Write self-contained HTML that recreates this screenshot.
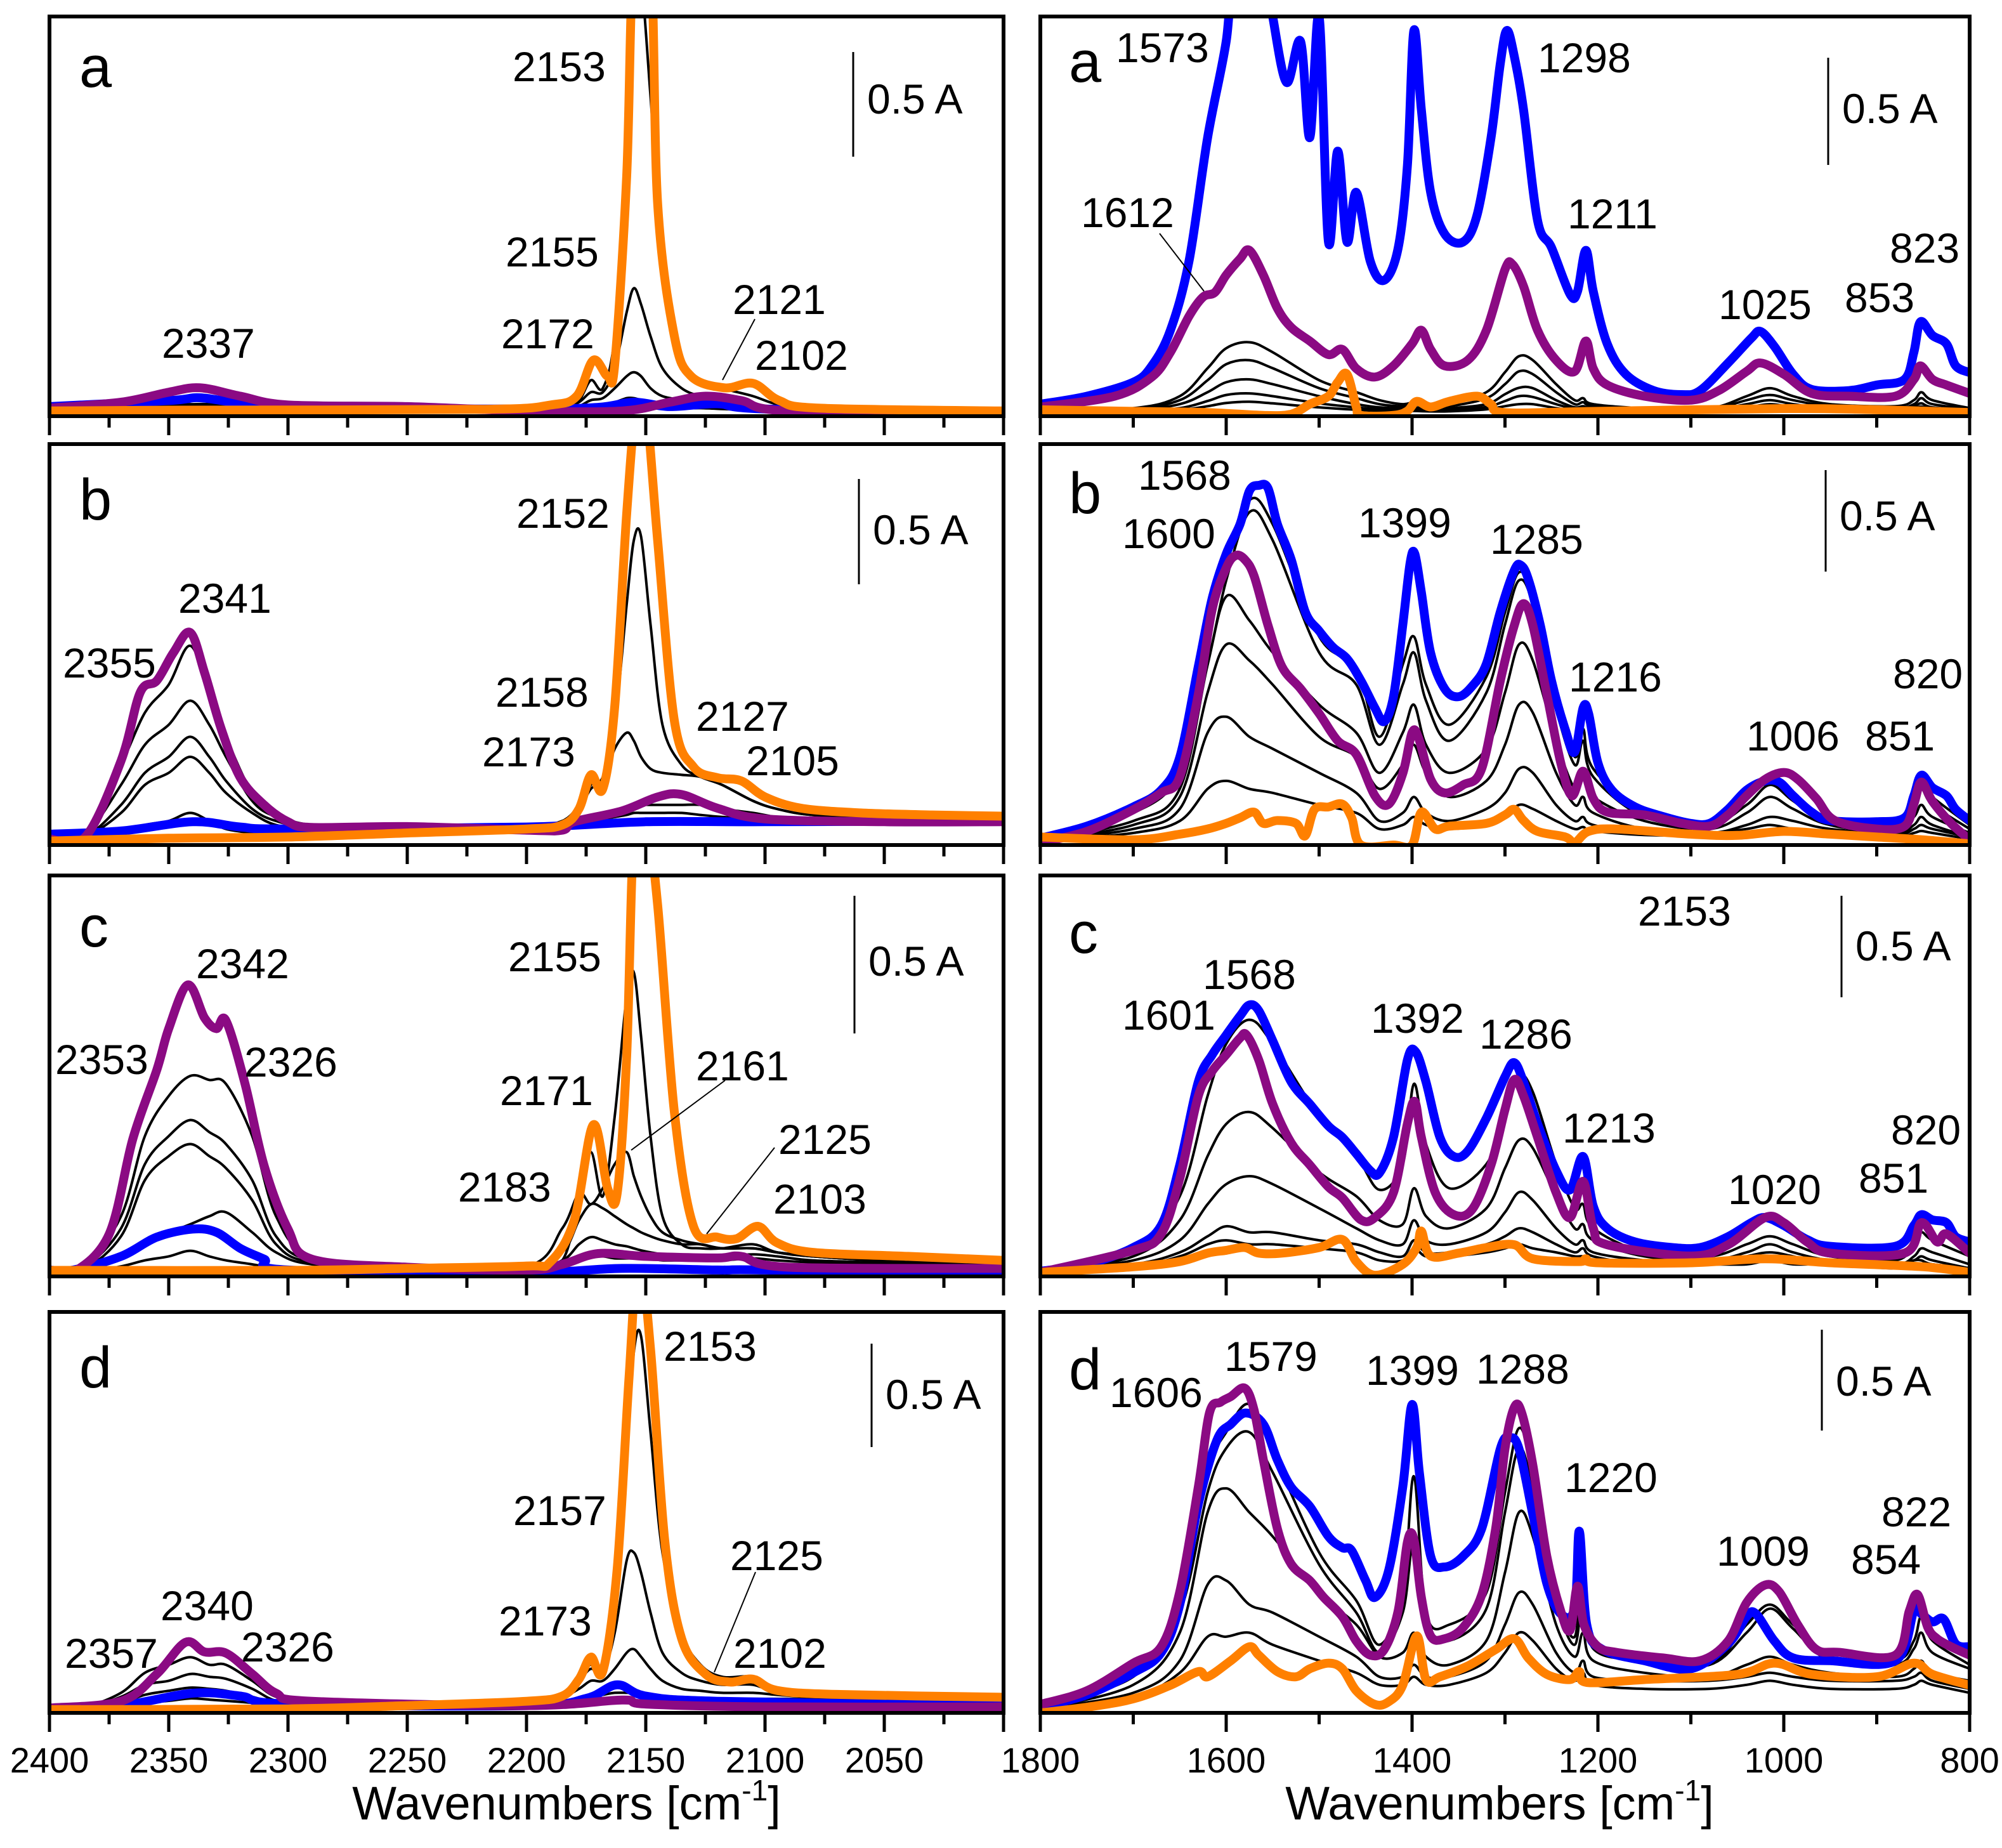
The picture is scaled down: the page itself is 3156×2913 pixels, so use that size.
<!DOCTYPE html>
<html><head><meta charset="utf-8">
<style>
html,body{margin:0;padding:0;background:#fff;}
svg{display:block;font-family:"Liberation Sans",Arial,sans-serif;}
</style></head>
<body>
<svg id="fig" xmlns="http://www.w3.org/2000/svg" width="3156" height="2913" viewBox="0 0 3156 2913">
<rect x="0" y="0" width="3156" height="2913" fill="#fff"/>
</svg>
<script>
// ---------- axis ticks ----------
const leftTicks = [2400,2350,2300,2250,2200,2150,2100,2050];
const leftTickLabels = ["2400","2350","2300","2250","2200","2150","2100","2050"];
const rightTicks = [1800,1600,1400,1200,1000,800];
const rightTickLabels = ["1800","1600","1400","1200","1000","800"];

// ---------- shared x grids for black (intermediate) spectra ----------
const leftBlackX = [2400,2385,2370,2360,2350,2341,2333,2326,2315,2305,2290,2250,2200,2185,2178,2173,2168,2163,2158,2155,2152,2148,2143,2135,2127,2118,2105,2095,2080,2050,2000];
const rightBlackX = [1800,1700,1650,1620,1600,1575,1550,1500,1460,1435,1410,1398,1385,1360,1320,1300,1285,1270,1245,1225,1216,1205,1150,1080,1040,1015,990,950,880,860,852,840,800];

// ---------- LEFT a ----------
const la_orange = [[2400,1.3],[2350,1.5],[2219,1.7],[2190,2.8],[2179,5],[2172,14],[2166,10],[2163,13],[2158,60],[2155,115],[2148,115],[2145,53],[2138,20],[2131,10],[2117,7.1],[2105,8.2],[2094,3.9],[2077,2],[2000,1.3]];
const la_purple = [[2400,2],[2370,3.5],[2350,6],[2337,7.1],[2320,5],[2300,2.8],[2250,2.4],[2200,1.3],[2160,1.3],[2140,3.5],[2125,5],[2110,3.9],[2090,1.3],[2000,1]];
const la_blue = [[2400,2.4],[2350,3.9],[2337,4.6],[2320,3.2],[2300,2],[2200,1.8],[2170,2.2],[2155,3.5],[2140,2.4],[2120,3.1],[2100,1.8],[2000,0.6]];
const la_black1 = [1.5,1.5,2,2.5,3,3,3,2.5,2,1.5,1.5,1.5,1.5,2.5,4,9,7,20,60,110,110,80,40,14,9,7,5,3,2,1.5,1.3];
const la_black2 = [1.2,1.2,1.5,2,2.5,2.5,2.5,2,1.5,1.2,1.2,1.2,1.2,2,3.5,6,6,12,26,32,28,20,12,7,5,4,3,2,1.5,1.2,1.2];
const la_black3 = [1,1,1.2,1.5,2,2,2,1.5,1.2,1,1,1,1,1.5,2.5,4,4.5,7,10,11,10,7,5,4,3,3,2,1.5,1.2,1,1];
const la_black4 = [1,1,1,1.2,1.5,1.5,1.5,1.2,1,1,1,1,1,1.2,2,2.5,3,3.5,4.5,4.5,4,3,2.5,2,2,1.8,1.5,1.2,1,1,1];

// ---------- LEFT b ----------
const lb_orange = [[2400,1],[2350,1.7],[2300,2],[2250,3],[2200,4],[2185,5],[2178,9],[2173,17.5],[2168,14],[2163,34.6],[2158,82.6],[2154,110],[2150,110],[2145,75.8],[2138,31],[2130,19.5],[2120,16.8],[2110,16],[2100,12],[2085,9.2],[2060,8],[2030,7.5],[2000,7.2]];
const lb_purple = [[2400,1.5],[2385,2],[2370,21],[2362,38],[2355,41],[2348,48],[2341,53],[2335,43],[2328,29],[2320,16.8],[2310,10],[2300,5.8],[2290,4.4],[2250,4.6],[2200,3.7],[2185,3.7],[2180,5.8],[2160,8.5],[2145,12],[2135,12.6],[2120,9.2],[2100,6.5],[2050,5.8],[2000,5.8]];
const lb_blue = [[2400,2.7],[2370,3.5],[2340,5.8],[2320,4.5],[2300,4],[2200,4.5],[2150,5.8],[2100,5.8],[2000,6]];
const lb_black1 = [0.5,3,20,33,40,49.7,38,27,13,8,5,4.5,4.5,6,10,15,17,30,60,76,77,55,30,20,17,15,11,9,7.5,7,7];
const lb_black2 = [0.5,2.5,15,25,30,36,30,22,11,7,5,4.5,4.5,6,9,14,16,24,28,26,22,19,18,17.5,17,15,11,9,7.5,7,7];
const lb_black3 = [0.5,2,10,18,22,27,22,16,9,6,4.5,4,4,5,6,7,8,8.5,9,9.5,10,10,10,10,10,9,8,7,6.5,6,6];
const lb_black4 = [0.5,2,8,15,18,22,18,13,8,5,4,3.5,3.5,4.5,5,6,6.5,7,7.5,8,8,8,8,8,7.5,7,6.5,6,6,6,6];
const lb_black5 = [0.5,1,3,5,6,8,6,4,3,2.5,2.5,3,3.5,4,4.5,5,5.5,6,6,6,6,6,6,6,6,5.5,5.5,5.5,5.5,5.5,5.5];

// ---------- LEFT c ----------
const lc_orange = [[2400,1.5],[2300,1.5],[2250,2],[2200,2.6],[2190,3.6],[2180,14],[2172,37.8],[2166,22],[2162,20.7],[2158,55],[2155,110],[2150,115],[2145,92.5],[2138,41],[2130,12.5],[2120,9.8],[2112,9.4],[2103,12.5],[2095,8.4],[2080,6],[2040,5],[2000,4]];
const lc_purple = [[2400,1],[2390,1],[2375,10.5],[2365,34.4],[2355,51.5],[2350,61.8],[2342,72.7],[2335,64.5],[2330,61.8],[2326,63.8],[2318,48],[2310,27.6],[2300,11.8],[2290,4.3],[2250,2.3],[2200,1.6],[2185,3],[2170,5.7],[2150,5],[2120,4.6],[2110,5],[2090,2.3],[2000,2]];
const lc_blue = [[2400,1.6],[2390,1.6],[2370,5],[2355,9.8],[2340,11.8],[2330,11],[2320,7],[2310,4.3],[2300,1.6],[2200,1],[2160,2],[2120,1.6],[2100,1.6],[2000,0.5]];
const lc_black1 = [1,3,15,35,45,50,49,48,35,15,5,3,2.5,4,20,31,20,40,70,75.8,60,35,15,8,7,7,8,6,5,4,3.5];
const lc_black2 = [1,2.5,12,28,35,39,36,33,24,10,4,3,2.5,12,20.7,18,22,28,31,25,20,15,11,9,8,7,7,6,5,4,3.5];
const lc_black3 = [1,2,10,24,30,33,30,27,19,8,3.5,2.5,2.5,6,14,18,17,15,13,12,11,10,9,8,8,7,7,6,5,4,3];
const lc_black4 = [0.8,1.5,5,9,11,13,15,16,11,6,3,2,2,4,8,9.8,9,8,7.5,7,6.5,6,5.5,5,5,5,5.5,5,4,3.5,3];
const lc_black5 = [0.8,1,2.5,4,5,6.4,5,4,3,2,1.5,1.5,1.5,2.5,4,5,5,4.5,4.5,4.5,4.5,4.5,4,4,4,4,4.5,4,3.5,3,3];

// ---------- LEFT d ----------
const ld_orange = [[2400,0.8],[2300,1],[2250,1.8],[2200,2.9],[2185,4.2],[2178,8.4],[2173,13.9],[2168,10.4],[2162,35.8],[2157,83.8],[2153,115],[2148,90.7],[2142,42.7],[2135,18.6],[2125,9.7],[2115,7.7],[2105,8.4],[2095,5.6],[2070,4.6],[2000,3.9]];
const ld_purple = [[2400,1.2],[2370,2.9],[2355,9.7],[2343,17.6],[2335,15.2],[2326,14.9],[2315,9.7],[2305,4.9],[2290,2.9],[2200,1.8],[2160,3.2],[2150,2.2],[2100,1.5],[2000,1.5]];
const ld_blue = [[2400,0.8],[2370,1.8],[2340,4.9],[2320,4.2],[2300,2.2],[2200,1.8],[2175,3.6],[2162,7],[2150,4.2],[2120,2.9],[2000,1.8]];
const ld_black1 = [1,1.5,5,10,12,13.9,12,12,8,4,2.5,2.5,3,5,9,12,10,25,65,90,94,70,40,20,12,9,9,6,5,4.5,4.5];
const ld_black2 = [1,1.2,4,7,8,9.7,9,8.5,6,3,2,2.2,2.7,4.5,8,11,10,20,38,40,35,25,15,10,8,7,7,5,4.5,4,4];
const ld_black3 = [1,1,2.5,4.5,5.5,6.3,6,5.5,4,2.5,2,2,2.5,4,6,8,8,11,15,15.9,14,11,8,6,5.5,5,5,4.5,4,4,4];
const ld_black4 = [1,1,1.5,2.5,3,3.6,3.3,3,2.5,2,2,2,2.3,3,3.5,4,4.5,5,5,5,4.8,4.5,4,3.5,3.5,3.5,3.5,3.5,3.5,3.5,3.5];

// ---------- RIGHT a ----------
const ra_blue = [[1800,3],[1750,5],[1700,8.5],[1680,12.6],[1660,21.5],[1640,38.8],[1620,69.7],[1600,93.8],[1590,115],[1560,115],[1550,100],[1535,83.5],[1520,93.8],[1510,69.7],[1500,100],[1490,43.6],[1480,66.3],[1470,43.6],[1460,56],[1445,38.8],[1430,34],[1415,42],[1405,62.8],[1398,96.5],[1390,76.6],[1380,56],[1365,45.6],[1345,43.6],[1330,50.4],[1315,69.7],[1305,88.3],[1298,96.5],[1290,90],[1280,76.6],[1265,49],[1250,42.2],[1230,30.5],[1222,31.2],[1213,41.5],[1205,31.2],[1190,18.1],[1170,10.5],[1140,6.4],[1110,5.4],[1090,6.4],[1060,13.3],[1035,19.5],[1025,21.2],[1010,17.4],[990,10.5],[970,6.7],[930,6.4],[900,7.8],[870,9.2],[860,16],[853,23.6],[840,20.2],[825,18.1],[815,12.6],[800,10.9]];
const ra_purple = [[1800,2.3],[1720,5],[1680,9.8],[1660,16],[1640,25],[1625,29.8],[1612,31],[1600,35.3],[1585,39.4],[1575,41.5],[1560,35.3],[1545,27],[1530,22.2],[1510,18.8],[1490,15.4],[1475,16.7],[1460,11.9],[1440,9.8],[1420,12.6],[1400,18.1],[1390,21.5],[1380,16.7],[1365,12.6],[1340,14],[1320,21.5],[1300,36.7],[1292,38],[1280,32.5],[1265,21.5],[1245,14],[1225,11.2],[1213,18.8],[1205,11.9],[1190,7.8],[1150,5],[1100,4],[1070,6.4],[1040,11.2],[1025,13.3],[1000,10.5],[970,5.7],[930,5],[880,5],[860,9.2],[853,12.6],[840,9.2],[825,7.8],[800,5.7]];
const ra_orange = [[1800,1.6],[1700,1.2],[1620,0.9],[1560,0.2],[1530,0.5],[1510,3],[1490,5],[1480,8.5],[1470,10.5],[1460,2.3],[1455,0.2],[1420,0.2],[1405,1.3],[1395,3.7],[1380,2.3],[1360,3.7],[1330,5],[1315,3],[1300,0.9],[1200,1.2],[1000,1.9],[900,1.6],[800,0.9]];
const ra_black1 = [1.5,2,5,12,17,18.5,16,9,6,4,3,3.5,3,3,6,11,15,14,8,4,4.5,3,2,2,5,7,5,3,2.5,4,6,4,2];
const ra_black2 = [1.2,1.8,4,9,13,14,12,7,4.5,3,2.5,3,2.5,2.5,4.5,8,11.2,10.5,6,3,3.5,2.5,1.8,1.8,4,5.3,4,2.5,2,3,4.5,3,1.8];
const ra_black3 = [1,1.5,3,6,8.5,9.2,8,5,3,2.2,2,2.2,2,2,3,5.5,7.1,7,4,2.2,2.5,2,1.5,1.5,3,4,3,2,1.8,2.5,3.2,2.2,1.5];
const ra_black4 = [1,1.2,2,3.8,5.3,5.7,5,3.2,2.2,1.7,1.5,1.7,1.6,1.6,2.3,3.8,5,4.8,3,1.8,2,1.6,1.3,1.3,2.2,3,2.3,1.6,1.5,2,2.4,1.8,1.2];
const ra_black5 = [0.8,1,1.5,2.5,3.3,3.6,3.2,2.2,1.6,1.3,1.2,1.3,1.2,1.2,1.7,2.5,3,3,2,1.4,1.5,1.3,1,1,1.6,2,1.7,1.3,1.2,1.5,1.7,1.4,1];

// ---------- RIGHT b ----------
const rb_blue = [[1800,1.7],[1750,4.7],[1700,9.5],[1670,13.7],[1650,21.9],[1630,44.5],[1615,61.6],[1600,72.6],[1585,80.1],[1575,88.3],[1565,89.7],[1555,89],[1545,80.1],[1530,71.2],[1515,58.2],[1500,53.4],[1485,49.3],[1470,46.5],[1455,41],[1440,34.2],[1430,30.8],[1420,37],[1410,54.8],[1402,70.5],[1397,72.6],[1390,63],[1380,47.9],[1365,39],[1350,37],[1335,39.7],[1320,45.2],[1305,58.2],[1290,68.5],[1283,69.8],[1275,66.4],[1262,54.8],[1250,41],[1235,28.7],[1225,23.2],[1216,34.2],[1210,32.8],[1200,20.5],[1185,13.7],[1160,9.5],[1130,7.1],[1100,5.4],[1080,5.4],[1060,8.9],[1040,13.7],[1020,16],[1005,15.7],[990,12.3],[970,8.2],[950,6.1],[900,5.8],[870,6.8],[860,12.3],[852,17.4],[840,14.3],[825,12.3],[815,8.9],[800,6.1]];
const rb_purple = [[1800,0.6],[1750,3.4],[1700,8.8],[1670,13],[1650,17],[1630,37.6],[1615,58.9],[1600,69.1],[1590,72.2],[1580,71.2],[1570,67.1],[1555,54.8],[1540,44.5],[1520,39],[1500,32.8],[1480,26],[1460,22.6],[1440,12.3],[1425,10.2],[1410,17.8],[1400,28],[1393,26.7],[1380,16.4],[1365,13],[1345,15],[1325,19.1],[1305,41],[1290,54.8],[1280,60.2],[1270,54.8],[1255,37.6],[1240,20.5],[1228,12.3],[1216,18.4],[1205,11.6],[1190,8.2],[1150,7.5],[1110,5.4],[1080,4.7],[1060,7.5],[1040,12.3],[1020,16.4],[1000,18.1],[985,16.4],[965,11.6],[945,6.1],[900,4],[870,4.7],[860,10.2],[852,15.7],[840,10.9],[820,5.4],[800,1.3]];
const rb_orange = [[1800,2],[1700,1.3],[1650,2.7],[1620,4],[1600,5.4],[1585,6.8],[1570,8.2],[1560,5.4],[1545,6.1],[1525,5.4],[1515,2.3],[1505,8.9],[1490,9.5],[1475,10.2],[1465,6.8],[1455,0],[1420,0],[1400,0],[1390,8.2],[1375,4],[1360,4.7],[1320,5.4],[1300,7.5],[1290,8.9],[1280,6.1],[1265,3.4],[1235,2],[1225,0.6],[1210,3.4],[1180,4],[1100,2.7],[1050,2.4],[1000,3.4],[950,2.7],[900,2],[850,1.3],[800,0.3]];
const rb_black1 = [1.5,9,20,50,70,86,80,52,44,27,45,52,40,30,42,58,68,62,36,22,29,19,8,5,12,16,12,6,5,11,16,12,5];
const rb_black2 = [1.5,8,18,45,66,83,76,48,40,25,40,48,36,26,38,55,66,60,34,20,26,17,7,5,10,15,11,5,4,9,14,10,4];
const rb_black3 = [1,6,14,45,62,56,48,35,28,18,28,35,25,18,24,38,50,46,26,14,17,12,6,4,8,12,9,5,4,7,10,7,3];
const rb_black4 = [1,5,12,38,50,46,40,27,22,14,20,25,18,12,16,25,35,33,18,10,12,8,4,3,5,7,6,4,3,5,7,5,2];
const rb_black5 = [1,4,9,28,32,27,24,18,13,6,8,12,8,6,9,13,19,18,10,6,7,5,3,3,4,5,4,3,2.5,4,5,4,2];
const rb_black6 = [0.8,3,6,14,16,14,13,10,8,4,5,7,5,4,5,7,10,9,6,4,4.5,3.5,2.5,2.5,3,3.5,3,2.5,2,3,3.5,3,1.5];

// ---------- RIGHT c ----------
const rc_blue = [[1800,1.3],[1750,3],[1700,7.2],[1670,12.7],[1650,27.8],[1630,48.5],[1615,55.3],[1600,60.2],[1585,65],[1575,67.7],[1565,66.3],[1550,58.8],[1530,48.5],[1510,43],[1490,37.5],[1475,34.7],[1460,30.6],[1445,26.4],[1435,25.8],[1420,34.7],[1405,54],[1396,56],[1385,48.5],[1370,34.7],[1355,29.9],[1340,31.3],[1320,39.5],[1300,49.8],[1290,53.3],[1280,48.5],[1265,38.1],[1245,26.4],[1230,21.6],[1216,29.9],[1205,17.5],[1190,12],[1160,8.6],[1120,7.2],[1090,7.2],[1060,9.9],[1035,13.4],[1020,14.7],[1000,12.7],[975,9.2],[950,7.5],[880,7.5],[860,12.7],[852,15.4],[840,14.1],[825,13.4],[815,9.9],[800,8.6]];
const rc_purple = [[1800,1],[1700,6.5],[1670,10.6],[1650,24.4],[1630,45],[1615,51.2],[1600,55.3],[1585,59.5],[1578,60.2],[1565,54],[1550,43],[1530,33.3],[1510,27.8],[1490,22.3],[1475,19.6],[1455,14.1],[1440,14.7],[1420,20.9],[1405,38.1],[1397,43.6],[1390,34.7],[1375,20.9],[1355,15.4],[1335,16.8],[1315,27.8],[1300,41.6],[1290,49.1],[1280,45],[1265,34.7],[1245,20.9],[1230,14.7],[1216,23.7],[1205,12],[1190,7.9],[1100,5.1],[1060,7.9],[1020,14.7],[1000,13.4],[975,8.6],[950,5.8],[870,5.8],[852,13.4],[835,8.6],[825,10.6],[800,5.8]];
const rc_orange = [[1800,1],[1700,2.4],[1650,3.7],[1620,5.8],[1600,6.5],[1580,7.2],[1565,5.8],[1540,5.8],[1500,7.2],[1475,9.2],[1460,3.7],[1440,0.3],[1410,3],[1395,7.2],[1390,11.3],[1380,5.1],[1350,5.8],[1320,7.2],[1290,7.9],[1270,4.4],[1220,3.7],[1213,4.4],[1200,3.4],[1100,3.4],[1020,4.4],[950,3.4],[850,2.4],[800,1]];
const rc_black1 = [1.3,6,20,45,58,64,58,40,30,21.6,28,48,33,22,28,40,50,46,28,17,18,12,6,5,8,10,8,5,4,8,11,9,5];
const rc_black2 = [1,5,14,30,38,41,37,26,20,14,13,22,15,12,17,27,34,32,20,12,13,9,5,4,6,8,6,4,3,5,7,6,3];
const rc_black3 = [1,4,9,18,23,25,23,17,12,9,8,14,9,8,11,16,21,19,12,8,9,6,4,3,5,6,5,3,3,4,5,4,2];
const rc_black4 = [1,3,6,10,12.5,11,11,9,8,6,5,9,6,6,8,10,12,11,8,6,7,5,3,3,4,5,4,3,3,4,4,3,2];
const rc_black5 = [1,2.5,5,8,9,8,8,7,6,4,4,7,5,5,6,7,8,7,6,5,5,4,3,3,3,4,3,3,2,3,3,3,2];

// ---------- RIGHT d ----------
const rd_purple = [[1800,2.1],[1750,5.5],[1700,12.4],[1670,16.5],[1650,30.2],[1630,56.3],[1618,74.8],[1606,77.5],[1595,78.9],[1580,81],[1570,75.5],[1560,63.1],[1545,46],[1530,37.1],[1510,33],[1495,28.8],[1475,24],[1460,17.9],[1445,14.4],[1430,15.8],[1415,25.4],[1405,42.6],[1398,43.3],[1390,28.8],[1380,19.2],[1365,18.5],[1345,21.3],[1325,29.5],[1310,46],[1300,65.9],[1290,76.2],[1282,74.8],[1270,61.8],[1255,39.1],[1240,25.4],[1230,20.6],[1222,31.6],[1215,22],[1200,16.5],[1180,15.1],[1130,13.7],[1090,13],[1060,17.9],[1040,27.5],[1020,31.9],[1005,30.2],[985,22],[965,15.8],[940,15.1],[880,14.4],[865,25.4],[856,29.5],[845,21.3],[835,18.5],[820,16.5],[800,14.4]];
const rd_blue = [[1800,1.5],[1750,4.5],[1700,10],[1670,15],[1650,27],[1630,52],[1610,68],[1595,72],[1579,74.8],[1560,72],[1545,63.1],[1530,56.3],[1510,51.5],[1490,44],[1475,41.2],[1465,40.5],[1450,33],[1440,28.8],[1425,35.7],[1410,56.3],[1400,76.9],[1392,59.7],[1380,39.1],[1365,36.4],[1345,39.1],[1325,46],[1305,65.9],[1295,68.6],[1285,65.9],[1270,49.4],[1255,32.3],[1240,24.7],[1225,26.1],[1220,45.3],[1212,22],[1195,15.8],[1150,13],[1100,11],[1060,17.2],[1040,24],[1030,24.7],[1010,17.9],[990,13.7],[950,13],[880,13],[860,25.4],[852,24.7],[840,22.7],[828,23.4],[815,17.2],[800,16.5]];
const rd_orange = [[1800,0],[1750,1.4],[1700,3.5],[1660,6.9],[1630,10.3],[1620,9],[1595,13],[1575,16.5],[1565,14.4],[1545,10.3],[1525,9],[1510,11],[1490,12.4],[1475,11],[1460,5.5],[1440,2.1],[1425,2.8],[1410,6.9],[1395,19.2],[1385,8.3],[1370,9],[1340,11.7],[1310,15.8],[1290,18.5],[1275,13.7],[1255,9.6],[1230,8.3],[1220,10.3],[1212,7.6],[1150,8.3],[1050,9.6],[1010,12.4],[970,9.6],[900,9],[860,12.4],[840,9.6],[800,6.9]];
const rd_black1 = [1.5,10,28,60,70,77,65,40,28,17,30,59,25,22,30,55,71,60,30,19,38,18,14,12,22,27,22,14,13,18,24,18,12];
const rd_black2 = [1.5,9,25,55,66,70,60,37,25,15,25,43,22,18,26,50,66,56,28,17,30,16,13,12,20,26,21,13,12,16,20,15,11];
const rd_black3 = [1,7,20,50,56,50,44,30,22,14,15,20,14,12,18,35,50,44,22,14,20,13,10,9,12,14,12,10,9,11,13,10,8];
const rd_black4 = [1,5,13,32,33,27,25,19,14,9,9,12,9,9,13,22,30,27,15,10,13,9,8,8,9,10,9,8,8,9,10,8,6];
const rd_black5 = [1,4,10,19,19,20,17,13,10,7,7,9,7,7,10,15,20,18,11,8,10,7,6,6,7,8,7,6,6,7,8,7,5];

// ---------- layout ----------
const NS = "http://www.w3.org/2000/svg";
const svg = document.getElementById('fig');
const COL = {L:{x0:78,x1:1582,w0:2400,w1:2000}, R:{x0:1640,x1:3105,w0:1800,w1:800}};
const ROWS = [{t:26,b:656},{t:700,b:1332},{t:1380,b:2012},{t:2068,b:2700}];
const ORANGE="#ff8000", PURPLE="#8b0a83", BLUE="#0000ff";

function mk(tag, attrs, parent){
  const e=document.createElementNS(NS,tag);
  for(const k in attrs) e.setAttribute(k,attrs[k]);
  (parent||svg).appendChild(e); return e;
}
function xScale(col,w){const c=COL[col];return c.x0+(w-c.w0)/(c.w1-c.w0)*(c.x1-c.x0);}
function yScale(row,p){const r=ROWS[row];return r.b-p/100*(r.b-r.t);}
function pathFrom(pts){
  if(pts.length<2) return "";
  let d="M"+pts[0][0].toFixed(1)+","+pts[0][1].toFixed(1);
  for(let i=0;i<pts.length-1;i++){
    const p0=pts[Math.max(0,i-1)],p1=pts[i],p2=pts[i+1],p3=pts[Math.min(pts.length-1,i+2)];
    const c1x=p1[0]+(p2[0]-p0[0])/6,c1y=p1[1]+(p2[1]-p0[1])/6;
    const c2x=p2[0]-(p3[0]-p1[0])/6,c2y=p2[1]-(p3[1]-p1[1])/6;
    d+=" C"+c1x.toFixed(1)+","+c1y.toFixed(1)+" "+c2x.toFixed(1)+","+c2y.toFixed(1)+" "+p2[0].toFixed(1)+","+p2[1].toFixed(1);
  }
  return d;
}
function series(g,col,row,data,color,width,name){
  const pts=data.map(d=>[xScale(col,d[0]),yScale(row,d[1])]);
  const p=mk('path',{d:pathFrom(pts),fill:'none',stroke:color,'stroke-width':width,'stroke-linejoin':'round','stroke-linecap':'round'},g);
  
  
}
function blackSeries(g,col,row,xs,ys,name){
  series(g,col,row,xs.map((x,i)=>[x,ys[i]]),'#000',4,name);
}
function text(x,y,s,size,name,anchor){
  const t=mk('text',{x:x,y:y,'font-size':size,fill:'#000','text-anchor':anchor||'start'});
  t.textContent=s;
  
  
  return t;
}
function line(x1,y1,x2,y2,w,name){
  const l=mk('line',{x1:x1,y1:y1,x2:x2,y2:y2,stroke:'#000','stroke-width':w});
  
  
}

function panel(col,row,letter,spec){
  const c=COL[col], r=ROWS[row];
  const id='clip'+col+row;
  const cp=mk('clipPath',{id:id}); mk('rect',{x:c.x0,y:r.t,width:c.x1-c.x0,height:r.b-r.t},cp);
  const g=mk('g',{'clip-path':'url(#'+id+')'});
  
  
  spec.blacks.forEach((ys,i)=>blackSeries(g,col,row,spec.bx,ys,'black-spectrum-'+(i+1)));
  series(g,col,row,spec.blue,BLUE,14,'blue-spectrum');
  series(g,col,row,spec.purple,PURPLE,14,'purple-spectrum');
  series(g,col,row,spec.orange,ORANGE,14,'orange-spectrum');
  const fr=mk('rect',{x:c.x0,y:r.t,width:c.x1-c.x0,height:r.b-r.t,fill:'none',stroke:'#000','stroke-width':6});
  
  
  const major=col==='L'?50:200, minor=col==='L'?25:100;
  const lo=Math.min(c.w0,c.w1), hi=Math.max(c.w0,c.w1);
  for(let w=hi; w>=lo; w-=minor){
    const x=xScale(col,w); const isMaj=(Math.abs((hi-w)%major)<1e-6);
    line(x,r.b,x,r.b+(isMaj?30:18),5,isMaj?'major-tick':'minor-tick');
  }
  text(c.x0+(col==='L'?47:45),spec.letterY,letter,92,'panel-label-'+letter);
  line(spec.bar[0],spec.bar[1],spec.bar[0],spec.bar[2],3,'scale-bar');
  text(spec.bar[0]+22,spec.bar[3],'0.5 A',66,'scale-bar-label');
  spec.labels.forEach(l=>text(l[1],l[2],l[0],66,'peak-label-'+l[0]));
  (spec.leaders||[]).forEach(l=>line(l[0],l[1],l[2],l[3],2,'leader-line'));
}

panel('L',0,'a',{bx:leftBlackX,blacks:[la_black4,la_black3,la_black2,la_black1],blue:la_blue,purple:la_purple,orange:la_orange,letterY:137,
  bar:[1345,82,247,179],
  labels:[["2153",808,128],["2155",797,420],["2172",790,549],["2121",1155,495],["2102",1190,583],["2337",255,564]],
  leaders:[[1190,503,1139,599]]});
panel('L',1,'b',{bx:leftBlackX,blacks:[lb_black5,lb_black4,lb_black3,lb_black2,lb_black1],blue:lb_blue,purple:lb_purple,orange:lb_orange,letterY:819,
  bar:[1354,755,921,858],
  labels:[["2341",281,966],["2355",99,1068],["2152",814,832],["2158",781,1114],["2173",760,1208],["2127",1097,1152],["2105",1176,1222]]});
panel('L',2,'c',{bx:leftBlackX,blacks:[lc_black5,lc_black4,lc_black3,lc_black2,lc_black1],blue:lc_blue,purple:lc_purple,orange:lc_orange,letterY:1492,
  bar:[1347,1412,1629,1538],
  labels:[["2342",309,1542],["2353",87,1693],["2326",385,1697],["2155",801,1531],["2171",788,1742],["2161",1097,1703],["2183",722,1894],["2125",1227,1819],["2103",1219,1913]],
  leaders:[[1143,1703,995,1813],[1221,1809,1114,1945]]});
panel('L',3,'d',{bx:leftBlackX,blacks:[ld_black4,ld_black3,ld_black2,ld_black1],blue:ld_blue,purple:ld_purple,orange:ld_orange,letterY:2187,
  bar:[1374,2118,2281,2221],
  labels:[["2153",1046,2145],["2157",809,2404],["2125",1151,2475],["2173",786,2578],["2102",1156,2629],["2340",253,2554],["2357",102,2629],["2326",380,2619]],
  leaders:[[1191,2478,1126,2636]]});

panel('R',0,'a',{bx:rightBlackX,blacks:[ra_black5,ra_black4,ra_black3,ra_black2,ra_black1],blue:ra_blue,purple:ra_purple,orange:ra_orange,letterY:129,
  bar:[2882,91,260,194],
  labels:[["1573",1759,98],["1298",2424,114],["1612",1704,358],["1211",2471,360],["823",2979,414],["1025",2709,503],["853",2908,492]],
  leaders:[[1828,368,1898,459]]});
panel('R',1,'b',{bx:rightBlackX,blacks:[rb_black6,rb_black5,rb_black4,rb_black3,rb_black2,rb_black1],blue:rb_blue,purple:rb_purple,orange:rb_orange,letterY:809,
  bar:[2878,741,901,836],
  labels:[["1568",1794,772],["1600",1769,864],["1399",2141,847],["1285",2349,873],["1216",2473,1090],["820",2984,1085],["1006",2753,1183],["851",2940,1183]]});
panel('R',2,'c',{bx:rightBlackX,blacks:[rc_black5,rc_black4,rc_black3,rc_black2,rc_black1],blue:rc_blue,purple:rc_purple,orange:rc_orange,letterY:1502,
  bar:[2903,1412,1572,1514],
  labels:[["2153",2582,1459],["1568",1896,1559],["1601",1769,1623],["1392",2161,1628],["1286",2332,1653],["1213",2463,1801],["820",2981,1804],["1020",2724,1898],["851",2930,1880]]});
panel('R',3,'d',{bx:rightBlackX,blacks:[rd_black5,rd_black4,rd_black3,rd_black2,rd_black1],blue:rd_blue,purple:rd_purple,orange:rd_orange,letterY:2190,
  bar:[2872,2096,2255,2200],
  labels:[["1579",1930,2161],["1606",1749,2218],["1399",2153,2183],["1288",2327,2181],["1220",2466,2352],["822",2966,2406],["1009",2706,2468],["854",2918,2481]]});

leftTicks.forEach((w,i)=>text(xScale('L',w),2794,leftTickLabels[i],56,'x-tick-label-left','middle'));
rightTicks.forEach((w,i)=>text(xScale('R',w),2794,rightTickLabels[i],56,'x-tick-label-right','middle'));

function axisTitle(cx,name){
  const t=mk('text',{x:cx,y:2868,'font-size':74,'text-anchor':'middle',fill:'#000'});
  
  
  t.appendChild(document.createTextNode('Wavenumbers [cm'));
  const s=document.createElementNS(NS,'tspan'); s.setAttribute('dy','-30'); s.setAttribute('font-size','46'); s.textContent='-1';
  t.appendChild(s);
  const s2=document.createElementNS(NS,'tspan'); s2.setAttribute('dy','30'); s2.textContent=']';
  t.appendChild(s2);
}
axisTitle(893,'x-axis-title-left');
axisTitle(2364,'x-axis-title-right');
</script>
</body></html>
